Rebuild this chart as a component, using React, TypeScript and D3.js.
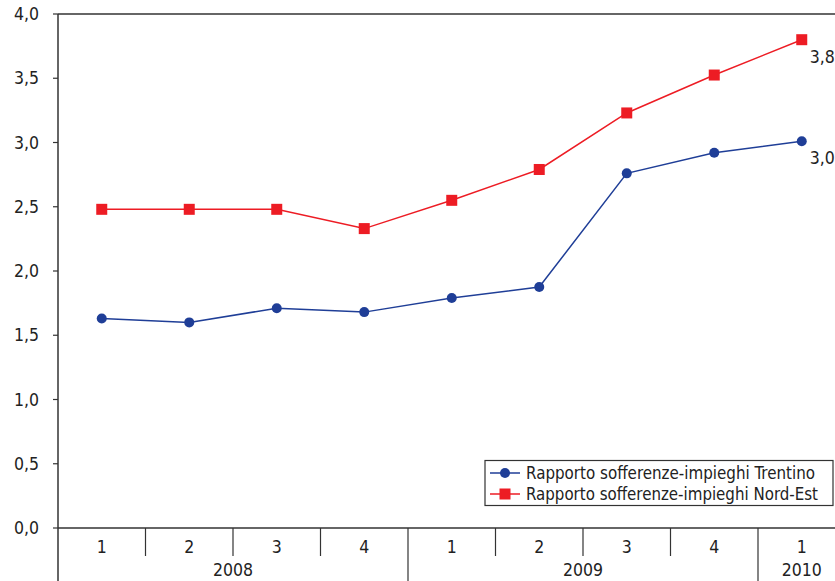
import React from "react";
import * as d3 from "d3";

const quarters = ["1", "2", "3", "4", "1", "2", "3", "4", "1"];
const years = [
  { label: "2008", start: 0, end: 4 },
  { label: "2009", start: 4, end: 8 },
  { label: "2010", start: 8, end: 9 },
];
const trentino = [1.63, 1.6, 1.71, 1.68, 1.79, 1.875, 2.76, 2.92, 3.01];
const nordEst = [2.48, 2.48, 2.48, 2.33, 2.55, 2.79, 3.23, 3.525, 3.8];
const yTicks = [0, 0.5, 1, 1.5, 2, 2.5, 3, 3.5, 4];
const seriesNames = ["Rapporto sofferenze-impieghi Trentino", "Rapporto sofferenze-impieghi Nord-Est"];
const endLabels = ["3,0", "3,8"];

const W = 835;
const H = 581;
const left = 58;
const top = 14;
const bottom = 528;
const catW = 87.5;
const FONT = "'DejaVu Sans Condensed', 'DejaVu Sans', sans-serif";
const BLUE = "#1f3e97";
const RED = "#ed1c24";
const AXIS = "#333";
const FS = 17.5;

export default function App() {
  const x = d3.scaleBand<number>().domain(d3.range(9)).range([left, left + 9 * catW]);
  const y = d3.scaleLinear().domain([0, 4]).range([bottom, top]);
  const fmt = (v: number) => d3.format(".1f")(v).replace(".", ",");
  const cx = (i: number) => (x(i) as number) + x.bandwidth() / 2;
  const line = d3
    .line<number>()
    .x((_, i) => cx(i))
    .y((d) => y(d));

  return (
    <svg
      width={W}
      height={H}
      style={{ position: "absolute", left: 0, top: 0, background: "#fff" }}
      fontFamily={FONT}
    >
      <line x1={left} x2={W} y1={top} y2={top} stroke={AXIS} strokeWidth={1.5} />
      <line x1={left} x2={left} y1={top} y2={H} stroke={AXIS} strokeWidth={1.5} />
      {yTicks.map((t) => (
        <g key={t}>
          <line x1={left - 5} x2={left} y1={y(t)} y2={y(t)} stroke={AXIS} strokeWidth={1.2} />
          <text x={39} y={y(t)} dy="0.35em" textAnchor="end" fontSize={FS} fill="#222">
            {fmt(t)}
          </text>
        </g>
      ))}
      <line x1={left} x2={W} y1={bottom} y2={bottom} stroke={AXIS} strokeWidth={1.5} />
      {quarters.map((q, i) => (
        <g key={i}>
          {i > 0 && (
            <line
              x1={x(i) as number}
              x2={x(i) as number}
              y1={bottom}
              y2={years.some((yr) => yr.start === i) ? H : bottom + 28}
              stroke={AXIS}
              strokeWidth={1.2}
            />
          )}
          <text x={cx(i)} y={bottom + 25} textAnchor="middle" fontSize={FS} fill="#222">
            {q}
          </text>
        </g>
      ))}
      {years.map((yr) => (
        <text
          key={yr.label}
          x={((x(yr.start) as number) + (x(yr.end - 1) as number) + x.bandwidth()) / 2}
          y={bottom + 48}
          textAnchor="middle"
          fontSize={FS}
          fill="#222"
        >
          {yr.label}
        </text>
      ))}
      <path d={line(nordEst) || ""} fill="none" stroke={RED} strokeWidth={1.5} />
      <path d={line(trentino) || ""} fill="none" stroke={BLUE} strokeWidth={1.5} />
      {nordEst.map((v, i) => (
        <rect key={"n" + i} x={cx(i) - 5.5} y={y(v) - 5.5} width={11} height={11} fill={RED} />
      ))}
      {trentino.map((v, i) => (
        <circle key={"t" + i} cx={cx(i)} cy={y(v)} r={5} fill={BLUE} />
      ))}
      <text x={cx(8) + 8} y={y(trentino[8]) + 23} fontSize={FS} fill="#222">
        {endLabels[0]}
      </text>
      <text x={cx(8) + 8} y={y(nordEst[8]) + 23} fontSize={FS} fill="#222">
        {endLabels[1]}
      </text>
      <g>
        <rect x={485} y={460.5} width={348} height={45} fill="#fff" stroke={AXIS} strokeWidth={1.2} />
        <line x1={490} x2={520} y1={473} y2={473} stroke={BLUE} strokeWidth={1.5} />
        <circle cx={505} cy={473} r={5} fill={BLUE} />
        <text x={526} y={473} dy="0.35em" fontSize={FS} fill="#222" textLength={289} lengthAdjust="spacingAndGlyphs">
          {seriesNames[0]}
        </text>
        <line x1={490} x2={520} y1={494} y2={494} stroke={RED} strokeWidth={1.5} />
        <rect x={499.5} y={488.5} width={11} height={11} fill={RED} />
        <text x={526} y={494} dy="0.35em" fontSize={FS} fill="#222" textLength={292} lengthAdjust="spacingAndGlyphs">
          {seriesNames[1]}
        </text>
      </g>
    </svg>
  );
}
